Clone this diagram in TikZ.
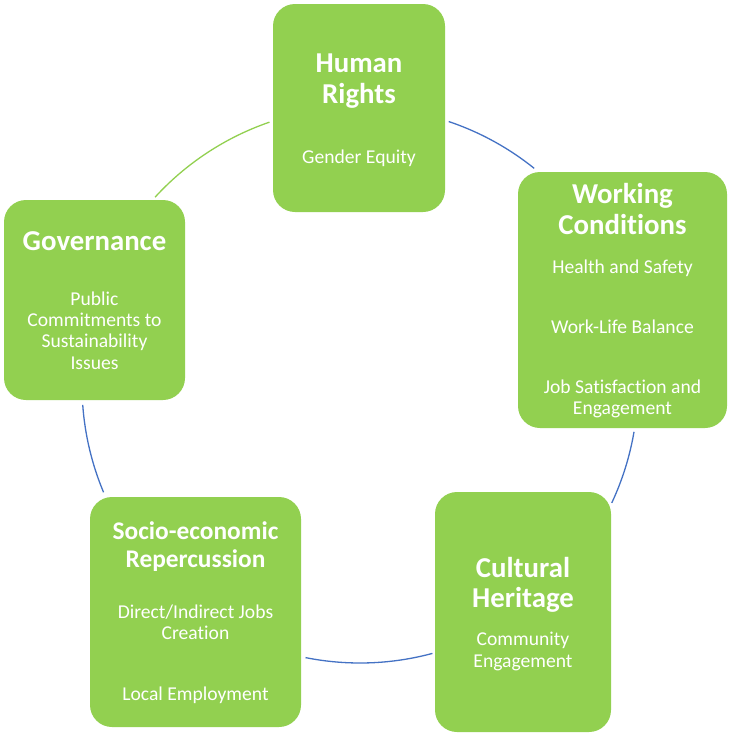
\documentclass[tikz,border=0pt]{standalone}
\usepackage{fontspec}
\setmainfont{Carlito}[Ligatures={NoCommon}]
\usetikzlibrary{calc}
\definecolor{boxgreen}{HTML}{92D050}
\definecolor{arcblue}{HTML}{4472C4}
\tikzset{
  box/.style={draw=none, fill=boxgreen, rounded corners=22pt, inner sep=0pt},
  ttl/.style={text=white, anchor=base, inner sep=0pt, font=\fontsize{28.8}{33}\selectfont\bfseries},
  ttlsmall/.style={text=white, anchor=base, inner sep=0pt, font=\fontsize{25.4}{30}\selectfont\bfseries},
  sub/.style={text=white, anchor=base, inner sep=0pt, font=\fontsize{19.6}{23}\selectfont},
  conn/.style={draw=arcblue, line width=1.3pt},
  conngreen/.style={draw=boxgreen, line width=1.3pt}
}
\begin{document}
\begin{tikzpicture}[x=1pt,y=-1pt]
\useasboundingbox (0,0) rectangle (733,736);
\coordinate (c) at (360,385);
% arc end points
\coordinate (g1) at ($(c)+(222.5:278)$);
\coordinate (b1) at ($(c)+(-71.4:278)$);
\coordinate (b3) at ($(c)+(9.7:278)$);
\coordinate (b5) at ($(c)+(74.9:278)$);
\coordinate (b7) at ($(c)+(157.3:278)$);
\draw[conngreen] (g1) arc[start angle=222.5, end angle=251, radius=278];
\draw[conn] (b1) arc[start angle=-71.4, end angle=-51.2, radius=278];
\draw[conn] (b3) arc[start angle=9.7, end angle=25.1, radius=278];
\draw[conn] (b5) arc[start angle=74.9, end angle=101.3, radius=278];
\draw[conn] (b7) arc[start angle=157.3, end angle=175.9, radius=278];
% boxes
\node[box, minimum width=172pt, minimum height=208pt] (hr) at (359,108) {};
\node[box, minimum width=209pt, minimum height=256pt] (wc) at (622.5,300) {};
\node[box, minimum width=176pt, minimum height=240pt] (ch) at (523,612) {};
\node[box, minimum width=211pt, minimum height=230pt] (se) at (195.5,612) {};
\node[box, minimum width=181pt, minimum height=200pt] (gov) at (94.5,300) {};
% Human Rights
\node[ttl] (hr1) at (359,72) {Human};
\node[ttl] (hr2) at (359,103) {Rights};
\node[sub] (hr3) at (359,163) {Gender Equity};
% Working Conditions
\node[ttl] (wc1) at (622.5,203) {Working};
\node[ttl] (wc2) at (622.5,234) {Conditions};
\node[sub] (wc3) at (622.5,273) {Health and Safety};
\node[sub] (wc4) at (622.5,333) {Work-Life Balance};
\node[sub] (wc5) at (622.5,393) {Job Satisfaction and};
\node[sub] (wc6) at (622.5,414) {Engagement};
% Cultural Heritage
\node[ttl] (ch1) at (523,577) {Cultural};
\node[ttl] (ch2) at (523,607) {Heritage};
\node[sub] (ch3) at (523,645) {Community};
\node[sub] (ch4) at (523,667) {Engagement};
% Socio-economic Repercussion
\node[ttlsmall] (se1) at (195.5,539) {Socio-economic};
\node[ttlsmall] (se2) at (195.5,567) {Repercussion};
\node[sub] (se3) at (195.5,618) {Direct/Indirect Jobs};
\node[sub] (se4) at (195.5,639) {Creation};
\node[sub] (se5) at (195.5,700) {Local Employment};
% Governance
\node[ttl] (gv1) at (94.5,250) {Governance};
\node[sub] (gv2) at (94.5,305) {Public};
\node[sub] (gv3) at (94.5,326) {Commitments to};
\node[sub] (gv4) at (94.5,347) {Sustainability};
\node[sub] (gv5) at (94.5,369) {Issues};
\end{tikzpicture}
\end{document}
